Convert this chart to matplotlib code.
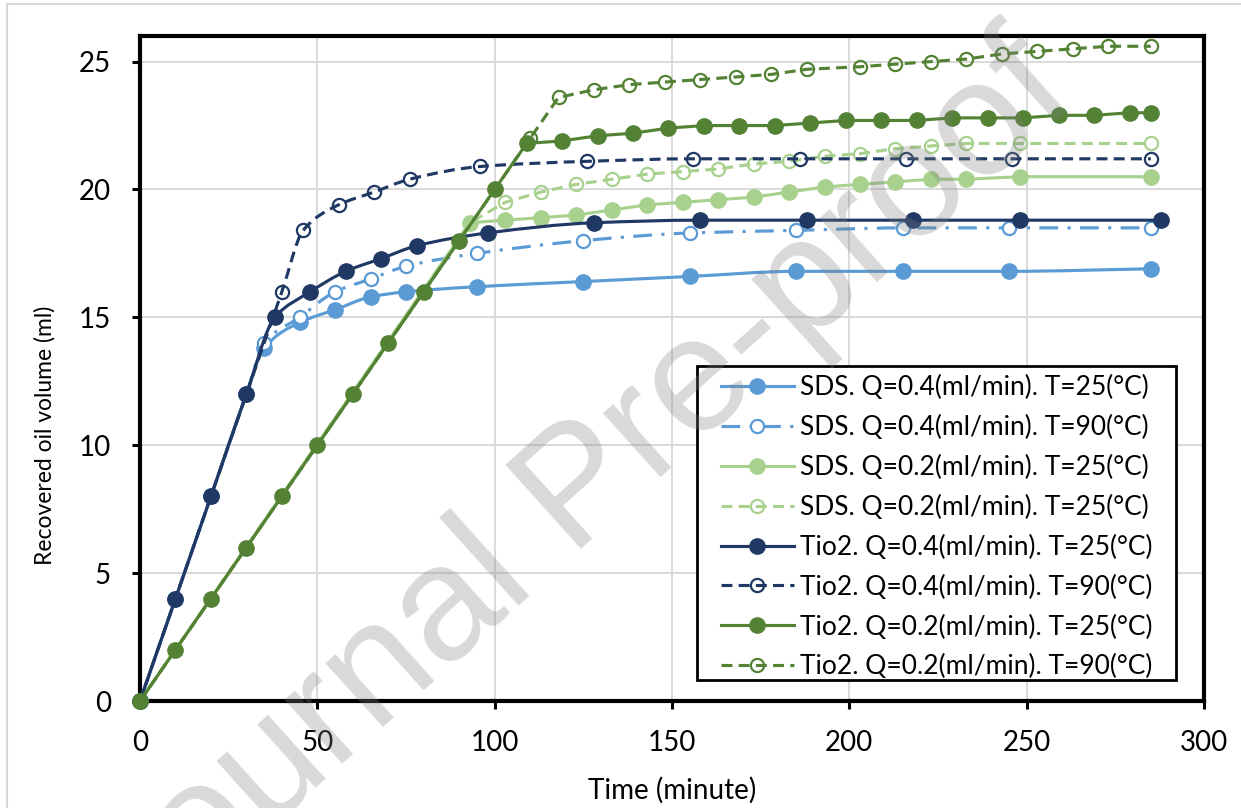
import numpy as np
import matplotlib.pyplot as plt
from matplotlib.path import Path
from matplotlib.patches import PathPatch, Rectangle
from matplotlib.lines import Line2D

# time (minute) / recovered oil volume (ml)
t_sds04_25 = [0, 10, 20, 30, 35, 45, 55, 65, 75, 95, 125, 155, 185, 215, 245, 285]
v_sds04_25 = [0, 4, 8, 12, 13.8, 14.8, 15.3, 15.8, 16.0, 16.2, 16.4, 16.6, 16.8, 16.8, 16.8, 16.9]

t_sds04_90 = [0, 10, 20, 30, 35, 45, 55, 65, 75, 95, 125, 155, 185, 215, 245, 285]
v_sds04_90 = [0, 4, 8, 12, 14.0, 15.0, 16.0, 16.5, 17.0, 17.5, 18.0, 18.3, 18.4, 18.5, 18.5, 18.5]

t_sds02 = [0, 93, 103, 113, 123, 133, 143, 153, 163, 173, 183, 193, 203, 213, 223, 233, 248, 285]
v_sds02_25 = [0, 18.7, 18.8, 18.9, 19.0, 19.2, 19.4, 19.5, 19.6, 19.7, 19.9, 20.1, 20.2, 20.3,
              20.4, 20.4, 20.5, 20.5]
v_sds02_90 = [0, 18.7, 19.5, 19.9, 20.2, 20.4, 20.6, 20.7, 20.8, 21.0, 21.1, 21.3, 21.4, 21.6,
              21.7, 21.8, 21.8, 21.8]

t_tio04_25 = [0, 10, 20, 30, 38, 48, 58, 68, 78, 98, 128, 158, 188, 218, 248, 288]
v_tio04_25 = [0, 4, 8, 12, 15, 16, 16.8, 17.3, 17.8, 18.3, 18.7, 18.8, 18.8, 18.8, 18.8, 18.8]

t_tio04_90 = [0, 40, 46, 56, 66, 76, 96, 126, 156, 186, 216, 246, 285]
v_tio04_90 = [0, 16, 18.4, 19.4, 19.9, 20.4, 20.9, 21.1, 21.2, 21.2, 21.2, 21.2, 21.2]

t_tio02_25 = [0, 10, 20, 30, 40, 50, 60, 70, 80, 90, 100, 109, 119, 129, 139, 149, 159, 169,
              179, 189, 199, 209, 219, 229, 239, 249, 259, 269, 279, 285]
v_tio02_25 = [0, 2, 4, 6, 8, 10, 12, 14, 16, 18, 20, 21.8, 21.9, 22.1, 22.2, 22.4, 22.5, 22.5,
              22.5, 22.6, 22.7, 22.7, 22.7, 22.8, 22.8, 22.8, 22.9, 22.9, 23.0, 23.0]

t_tio02_90 = [0, 110, 118, 128, 138, 148, 158, 168, 178, 188, 203, 213, 223, 233, 243, 253, 263,
              273, 285]
v_tio02_90 = [0, 22.0, 23.6, 23.9, 24.1, 24.2, 24.3, 24.4, 24.5, 24.7, 24.8, 24.9, 25.0, 25.1,
              25.3, 25.4, 25.5, 25.6, 25.6]

labels = ["SDS. Q=0.4(ml/min). T=25(°C)", "SDS. Q=0.4(ml/min). T=90(°C)",
          "SDS. Q=0.2(ml/min). T=25(°C)", "SDS. Q=0.2(ml/min). T=25(°C)",
          "Tio2. Q=0.4(ml/min). T=25(°C)", "Tio2. Q=0.4(ml/min). T=90(°C)",
          "Tio2. Q=0.2(ml/min). T=25(°C)", "Tio2. Q=0.2(ml/min). T=90(°C)"]

LIGHT_BLUE = '#5B9BD5'
NAVY = '#1F3864'
LIGHT_GREEN = '#A9D18E'
GREEN = '#548235'

DASH = (0, (3.5, 2))
DASHDOT = (0, (6, 3, 1, 3))

plt.rcParams['font.family'] = ['Lato', 'DejaVu Sans']


def pchip_slopes(x, y):
    # monotone (Fritsch-Carlson) tangents, like Excel's smoothed line without overshoot
    x = np.asarray(x, float)
    y = np.asarray(y, float)
    h = np.diff(x)
    d = np.diff(y) / h
    m = np.zeros_like(y)
    m[0], m[-1] = d[0], d[-1]
    for k in range(1, len(x) - 1):
        if d[k - 1] * d[k] <= 0:
            m[k] = 0.0
        else:
            w1 = 2 * h[k] + h[k - 1]
            w2 = h[k] + 2 * h[k - 1]
            m[k] = (w1 + w2) / (w1 / d[k - 1] + w2 / d[k])
    return m


def smooth_path(x, y):
    m = pchip_slopes(x, y)
    verts = [(x[0], y[0])]
    codes = [Path.MOVETO]
    for i in range(len(x) - 1):
        h = (x[i + 1] - x[i]) / 3.0
        verts += [(x[i] + h, y[i] + m[i] * h),
                  (x[i + 1] - h, y[i + 1] - m[i + 1] * h),
                  (x[i + 1], y[i + 1])]
        codes += [Path.CURVE4] * 3
    return Path(verts, codes)


def draw_series(ax, x, y, color, ls, filled, smooth, z, face='none'):
    lw = 2.25
    if filled:
        mk = dict(marker='o', ms=11, mfc=color, mec=color, mew=1)
    else:
        mk = dict(marker='o', ms=9.5, mfc=face, mec=color, mew=1.6)
    if smooth:
        ax.add_patch(PathPatch(smooth_path(x, y), fill=False, edgecolor=color, lw=lw,
                               linestyle=ls, zorder=z))
        ax.plot(x, y, ls='none', zorder=z, clip_on=False, **mk)
    else:
        ax.plot(x, y, color=color, lw=lw, ls=ls, zorder=z, clip_on=False, **mk)
    return Line2D([], [], color=color, lw=lw, ls=ls, **mk)


fig = plt.figure(figsize=(12.41, 8.08), dpi=100)
ax = fig.add_axes([0.1128, 0.1324, 0.8574, 0.8230])

handles = []
handles.append(draw_series(ax, t_sds04_25, v_sds04_25, LIGHT_BLUE, '-', True, True, 3))
handles.append(draw_series(ax, t_sds04_90, v_sds04_90, LIGHT_BLUE, DASHDOT, False, True, 4,
                           face='white'))
handles.append(draw_series(ax, t_sds02, v_sds02_25, LIGHT_GREEN, '-', True, False, 5))
handles.append(draw_series(ax, t_sds02, v_sds02_90, LIGHT_GREEN, DASH, False, False, 6))
handles.append(draw_series(ax, t_tio04_25, v_tio04_25, NAVY, '-', True, True, 7))
handles.append(draw_series(ax, t_tio04_90, v_tio04_90, NAVY, DASH, False, True, 8))
handles.append(draw_series(ax, t_tio02_25, v_tio02_25, GREEN, '-', True, False, 9))
handles.append(draw_series(ax, t_tio02_90, v_tio02_90, GREEN, DASH, False, False, 10))

ax.set_xlim(0, 300)
ax.set_ylim(0, 26)
ax.set_xticks(np.arange(0, 301, 50))
ax.set_yticks(np.arange(0, 26, 5))
ax.grid(True, color='#D9D9D9', lw=1.4, zorder=0)
ax.set_axisbelow(True)
for sp in ax.spines.values():
    sp.set_linewidth(3)
    sp.set_color('black')
    sp.set_zorder(2.5)
ax.tick_params(axis='both', direction='out', length=6, width=2.2, labelsize=20,
               colors='black', pad=15)

ax.set_xlabel('Time (minute)', fontsize=20, labelpad=15)
ax.set_ylabel('Recovered oil volume (ml)', fontsize=16.5)
ax.yaxis.set_label_coords(-0.079, 0.40)

# legend box: frame drawn separately so the inner padding can differ per side
ax.add_patch(Rectangle((0.5235, 0.0316), 0.4502, 0.4722, transform=ax.transAxes,
                       facecolor='white', edgecolor='black', lw=2, zorder=19))
leg = ax.legend(handles, labels, loc='upper left', bbox_to_anchor=(0.546, 0.490),
                borderaxespad=0, frameon=False, fontsize=19, handlelength=2.75,
                handletextpad=0.25, labelspacing=0.56, borderpad=0)
leg.set_zorder(20)

# chart area border (light grey, top/left visible)
fig.add_artist(Line2D([7 / 1241, 7 / 1241], [0, 1 - 4 / 808], color='#D9D9D9', lw=1.5))
fig.add_artist(Line2D([7 / 1241, 1], [1 - 4 / 808, 1 - 4 / 808], color='#D9D9D9', lw=1.5))

# watermark
fig.text(581 / 1241, 1 - 493 / 808, 'Journal Pre-proof', fontsize=118,
         family='Liberation Sans', color=(0.5, 0.5, 0.5), alpha=0.3, rotation=42,
         ha='center', va='center', rotation_mode='anchor', zorder=30)

fig.savefig('out.png', dpi=100)
